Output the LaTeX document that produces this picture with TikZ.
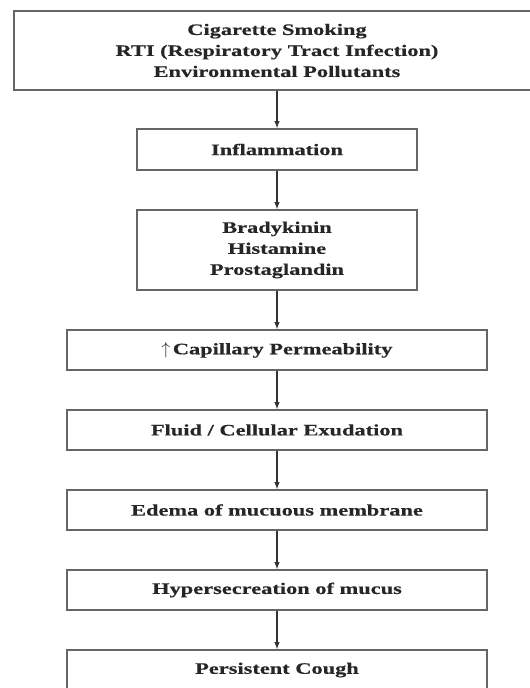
\documentclass[tikz,border=0pt]{standalone}
\usepackage{fontspec}
\setmainfont{Liberation Serif}[FakeStretch=1.4, BoldFeatures={FakeBold=0.4}]
\newcommand{\fleche}[2]{\draw[-latex, line width=1.4pt, draw=black!80] (#1) -- (#2)}
\tikzset{boite/.style={draw=black!60, line width=1.8pt, fill=white, align=center, inner sep=0pt,
    font=\fontsize{16}{21}\selectfont\bfseries, text=black!85}}

\begin{document}
\begin{tikzpicture}[x=1pt, y=-1pt]
                    \useasboundingbox (0,0) rectangle (530,688);
                    \clip (0,0) rectangle (530,688);
                    \fill[white] (0,0) rectangle (530,688);

                    \node[boite, minimum width=526pt, minimum height=79pt] (e1) at (277,50.5)
                        {Cigarette Smoking\\RTI (Respiratory Tract Infection)\\Environmental Pollutants};
                    \node[boite, minimum width=280pt, minimum height=41pt] (e2) at (277,149.5) {Inflammation};
                    \node[boite, minimum width=280pt, minimum height=80pt] (e3) at (277,250)
                        {Bradykinin\\Histamine\\Prostaglandin};
                    \node[boite, minimum width=420pt, minimum height=40pt] (e4) at (277,350)
                        {$\uparrow$\,Capillary Permeability};
                    \node[boite, minimum width=420pt, minimum height=40pt] (e5) at (277,430) {Fluid / Cellular Exudation};
                    \node[boite, minimum width=420pt, minimum height=40pt] (e6) at (277,510) {Edema of mucuous membrane};
                    \node[boite, minimum width=420pt, minimum height=40pt] (e7) at (277,590) {Hypersecreation of mucus};
                    \node[boite, minimum width=420pt, minimum height=40pt] (e8) at (277,670) {Persistent Cough};

                    \fleche{e1}{e2};
                    \fleche{e2}{e3};
                    \fleche{e3}{e4};
                    \fleche{e4}{e5};
                    \fleche{e5}{e6};
                    \fleche{e6}{e7};
                    \fleche{e7}{e8};
                \end{tikzpicture}
\end{document}
